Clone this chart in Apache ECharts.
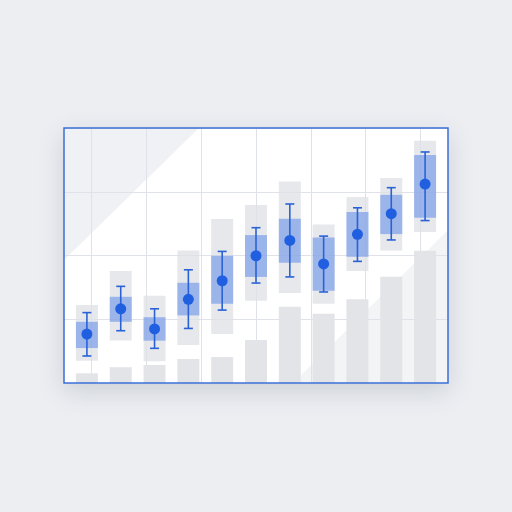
<!DOCTYPE html>
<html lang="en">
<head>
    <meta charset="UTF-8">
    <title>Range chart</title>
    <script src="https://cdn.jsdelivr.net/npm/echarts@6/dist/echarts.min.js"></script>
    <style>
        html, body { margin: 0; padding: 0; background: #eceef2; }
        #main { width: 512px; height: 512px; }
    </style>
</head>
<body>
<div id="main"></div>
<script>
    // 11 groups, values on a 0-100 scale
    let categories = ['1', '2', '3', '4', '5', '6', '7', '8', '9', '10', '11'];
    let baseBars = [3.8, 6.2, 7.1, 9.4, 10.2, 16.9, 29.9, 27.2, 32.8, 41.7, 51.9];
    let rangeLow = [8.7, 16.7, 8.5, 14.9, 19.2, 32.3, 35.3, 31.1, 43.9, 52.0, 59.2];
    let rangeHigh = [30.6, 43.9, 34.2, 52.0, 64.3, 69.8, 79.0, 62.2, 72.9, 80.4, 95.0];
    let boxLow = [13.7, 24.0, 16.6, 26.5, 31.1, 41.6, 47.2, 36.2, 49.5, 58.4, 64.8];
    let boxHigh = [24.0, 33.8, 25.8, 39.3, 49.9, 58.0, 64.4, 57.1, 67.1, 73.8, 89.4];
    let whiskerLow = [10.6, 20.5, 13.6, 21.4, 28.6, 39.2, 41.6, 35.7, 47.7, 56.1, 63.7];
    let whiskerHigh = [27.6, 37.9, 29.1, 44.4, 51.6, 60.9, 70.2, 57.6, 68.7, 76.6, 90.6];
    let means = [19.2, 29.1, 21.2, 32.8, 40.1, 49.9, 55.9, 46.7, 58.3, 66.4, 78.0];
    // background vertical grid: 7 columns, line through each column middle
    let gridCols = ['0', '1', '2', '3', '4', '5', '6', '7', '8', '9', '10', '11', '12', '13', '14'];

    let myChart = echarts.init(document.getElementById('main'));

    function boxItem(lowArr, highArr, color, widthRatio) {
        return function (params, api) {
            let i = params.dataIndex;
            let p1 = api.coord([i, highArr[i]]);
            let p2 = api.coord([i, lowArr[i]]);
            let w = api.size([1, 0])[0] * widthRatio;
            return {
                type: 'rect',
                shape: { x: p1[0] - w / 2, y: p1[1], width: w, height: p2[1] - p1[1] },
                style: { fill: color }
            };
        };
    }

    let option = {
        backgroundColor: '#eceef2',
        animation: false,
        graphic: [
            {
                type: 'rect', z: -20, silent: true,
                shape: { x: 64, y: 128, width: 384, height: 255 },
                style: { fill: '#ffffff', shadowBlur: 24, shadowOffsetY: 8, shadowColor: 'rgba(60,70,90,0.18)' }
            },
            {
                type: 'polygon', z: -15, silent: true,
                shape: { points: [[64, 128], [199, 128], [64, 260]] },
                style: { fill: 'rgba(226,229,237,0.55)' }
            },
            {
                type: 'polygon', z: -15, silent: true,
                shape: { points: [[448, 230], [448, 383], [293, 383]] },
                style: { fill: 'rgba(228,230,236,0.45)' }
            },
            {
                type: 'rect', z: 100, silent: true,
                shape: { x: 64, y: 128, width: 384, height: 255 },
                style: { fill: 'none', stroke: '#3a6fd6', lineWidth: 1.5 }
            }
        ],
        grid: [
            { left: 64, width: 384, top: 128, height: 255 },
            { left: 70, width: 372, top: 128, height: 255 }
        ],
        xAxis: [
            {
                gridIndex: 0, type: 'category', data: gridCols, boundaryGap: false,
                axisLine: { show: false }, axisTick: { show: false }, axisLabel: { show: false },
                splitLine: {
                    show: true,
                    interval: function (index) { return index % 2 === 1; },
                    lineStyle: { color: '#dfe2e8', width: 1 }
                }
            },
            {
                gridIndex: 1, type: 'category', data: categories, boundaryGap: true,
                axisLine: { show: false }, axisTick: { show: false }, axisLabel: { show: false },
                splitLine: { show: false }
            }
        ],
        yAxis: [
            {
                gridIndex: 0, type: 'value', min: 0, max: 100, interval: 25,
                axisLine: { show: false }, axisTick: { show: false }, axisLabel: { show: false },
                splitLine: { show: true, lineStyle: { color: '#dfe2e8', width: 1.2 } }
            },
            {
                gridIndex: 1, type: 'value', min: 0, max: 100, interval: 25,
                axisLine: { show: false }, axisTick: { show: false }, axisLabel: { show: false },
                splitLine: { show: false }
            }
        ],
        series: [
            {
                type: 'bar', xAxisIndex: 1, yAxisIndex: 1,
                data: baseBars, barWidth: '65%',
                itemStyle: { color: '#e2e4e8' },
                z: 1
            },
            {
                type: 'custom', xAxisIndex: 1, yAxisIndex: 1,
                data: rangeLow,
                renderItem: boxItem(rangeLow, rangeHigh, 'rgba(222,224,229,0.75)', 0.65),
                z: 2
            },
            {
                type: 'custom', xAxisIndex: 1, yAxisIndex: 1,
                data: boxLow,
                renderItem: boxItem(boxLow, boxHigh, 'rgba(80,130,232,0.5)', 0.65),
                z: 3
            },
            {
                type: 'custom', xAxisIndex: 1, yAxisIndex: 1,
                data: whiskerLow,
                renderItem: function (params, api) {
                    let i = params.dataIndex;
                    let top = api.coord([i, whiskerHigh[i]]);
                    let bot = api.coord([i, whiskerLow[i]]);
                    let cap = 4.5;
                    let st = { stroke: '#2a62d6', lineWidth: 1.6 };
                    return {
                        type: 'group',
                        children: [
                            { type: 'line', shape: { x1: top[0], y1: top[1], x2: bot[0], y2: bot[1] }, style: st },
                            { type: 'line', shape: { x1: top[0] - cap, y1: top[1], x2: top[0] + cap, y2: top[1] }, style: st },
                            { type: 'line', shape: { x1: bot[0] - cap, y1: bot[1], x2: bot[0] + cap, y2: bot[1] }, style: st }
                        ]
                    };
                },
                z: 4
            },
            {
                type: 'scatter', xAxisIndex: 1, yAxisIndex: 1,
                data: means, symbolSize: 11,
                itemStyle: { color: '#1f5fe0', opacity: 1 },
                z: 5
            }
        ]
    };
    myChart.setOption(option);
</script>
</body>
</html>
